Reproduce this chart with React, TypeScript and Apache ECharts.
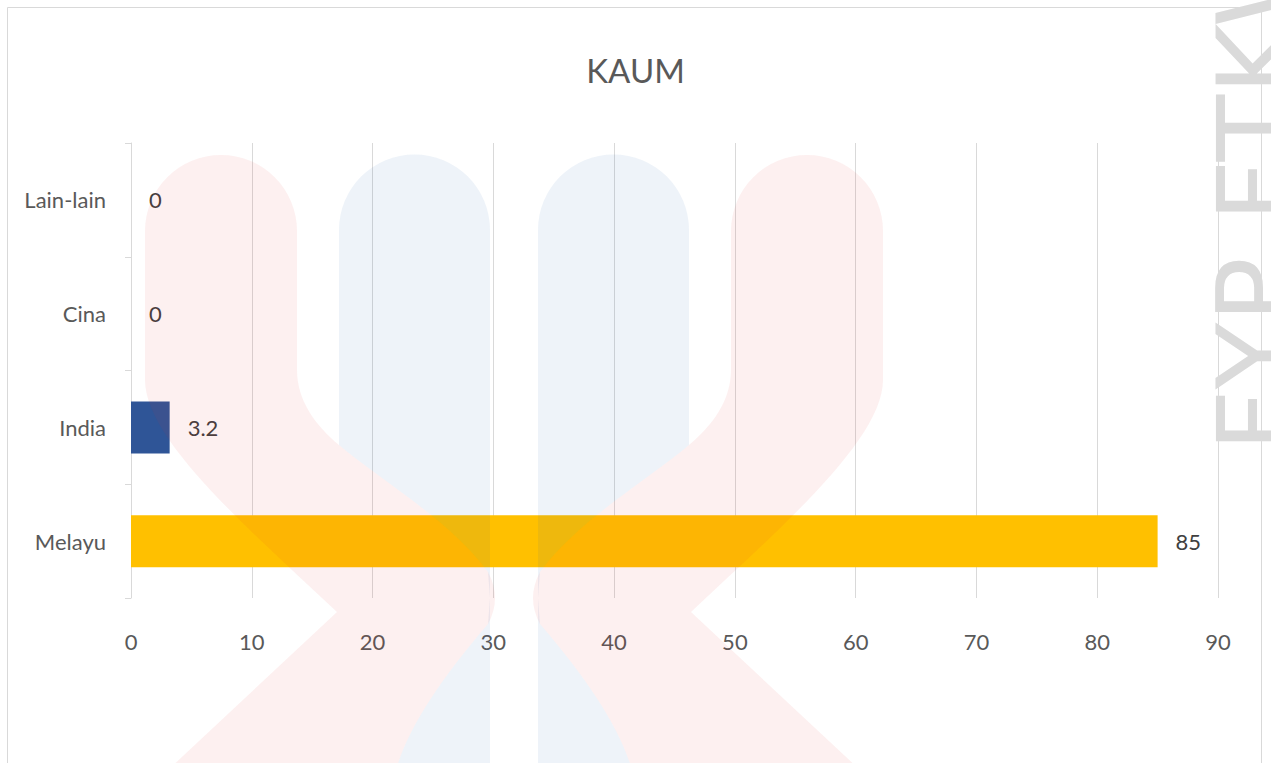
import React, { useEffect, useRef } from "react";
import * as echarts from "echarts";

const chartTitle = "KAUM";
const categories = ["Melayu", "India", "Cina", "Lain-lain"];
const values = [85, 3.2, 0, 0];
const barColors = ["#FFC000", "#2F5597", "#A5A5A5", "#4472C4"];
const xTicks = { min: 0, max: 90, interval: 10 };
const sideMark = "FYP FTKW";

const RED_D =
  "M 145 231 A 76 76 0 0 1 297 231 L 297 370 C 297 400 315 425 339 445 C 380 480 450 520 488 572 Q 502 598 488 624 C 440 680 408 728 396 770 L 168 770 L 337 612 C 250 530 145 440 145 380 Z";
const BLUE_D =
  "M 339 230 A 75.5 75.5 0 0 1 490 230 L 490 598 L 488 572 C 450 520 380 480 339 445 Z M 490 598 L 488 624 C 440 680 408 728 396 770 L 490 770 Z";

let registered = false;
function registerShapes() {
  if (registered) return;
  registered = true;
  echarts.graphic.registerShape("wmRed", echarts.graphic.extendPath(RED_D, {}));
  echarts.graphic.registerShape("wmBlue", echarts.graphic.extendPath(BLUE_D, {}));
}

export default function App() {
  const ref = useRef<HTMLDivElement>(null);
  useEffect(() => {
    if (!ref.current) return;
    registerShapes();
    const chart = echarts.init(ref.current, undefined, { renderer: "svg" });
    const font = "Lato";
    const redStyle = { fill: "#E42A2F", opacity: 0.07 };
    const blueStyle = { fill: "#1F5FA8", opacity: 0.075 };
    chart.setOption({
      animation: false,
      backgroundColor: "#ffffff",
      title: {
        text: chartTitle,
        left: "center",
        top: 48,
        textStyle: { fontFamily: font, fontSize: 33, fontWeight: "normal", color: "#595959" },
      },
      grid: { left: 131, right: 53, top: 143, bottom: 165, containLabel: false },
      xAxis: {
        type: "value",
        min: xTicks.min,
        max: xTicks.max,
        interval: xTicks.interval,
        axisLine: { show: false },
        axisTick: { show: false },
        splitLine: { show: true, lineStyle: { color: "#D9D9D9", width: 1 } },
        axisLabel: { fontFamily: font, fontSize: 22, color: "#595959", margin: 32 },
      },
      yAxis: {
        type: "category",
        data: categories,
        axisLine: { show: true, lineStyle: { color: "#D9D9D9", width: 1 } },
        axisTick: { show: true, length: 6, lineStyle: { color: "#D9D9D9" } },
        axisLabel: { fontFamily: font, fontSize: 22, color: "#595959", margin: 25 },
      },
      series: [
        {
          type: "bar",
          barWidth: 52,
          data: values.map((v, i) => ({ value: v, itemStyle: { color: barColors[i] } })),
          label: {
            show: true,
            position: "right",
            distance: 18,
            fontFamily: font,
            fontSize: 22,
            color: "#404040",
          },
        },
      ],
      graphic: [
        {
          type: "rect",
          z: 1,
          shape: { x: 7.5, y: 7.5, width: 1254, height: 800 },
          style: { fill: "none", stroke: "#D9D9D9", lineWidth: 1 },
        },
        { type: "wmBlue", x: 0, y: 0, z: 100, style: blueStyle, silent: true },
        { type: "wmBlue", x: 1028, y: 0, scaleX: -1, z: 100, style: blueStyle, silent: true },
        { type: "wmRed", x: 0, y: 0, z: 101, style: redStyle, silent: true },
        { type: "wmRed", x: 1028, y: 0, scaleX: -1, z: 101, style: redStyle, silent: true },
        {
          type: "text",
          x: 1203,
          y: 452,
          rotation: Math.PI / 2,
          z: 102,
          silent: true,
          style: {
            text: sideMark,
            fontFamily: "DejaVu Sans",
            fontSize: 109,
            fill: "#DADADA",
            textAlign: "left",
            textVerticalAlign: "top",
          },
        },
      ],
    });
    return () => chart.dispose();
  }, []);
  return (
    <div
      ref={ref}
      style={{ position: "absolute", left: 0, top: 0, width: 1271, height: 763, background: "#fff" }}
    />
  );
}
